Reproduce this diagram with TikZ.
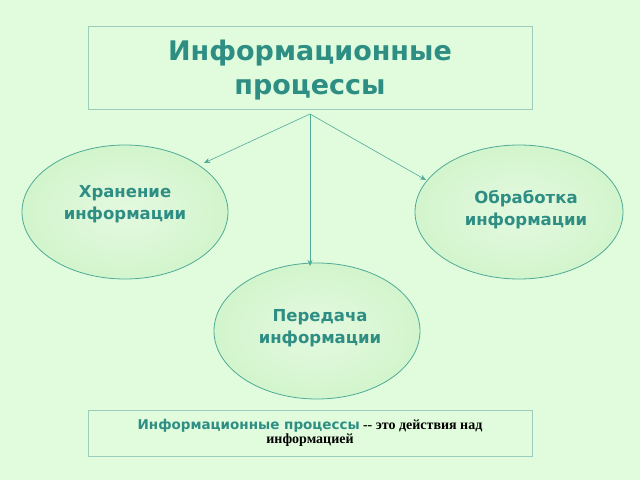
\documentclass[tikz,border=0pt]{standalone}
\usepackage{fontspec}
\setmainfont{DejaVu Sans}
\newfontfamily\serifb{Liberation Serif}
\usetikzlibrary{shapes.geometric,arrows.meta}
\begin{document}
\begin{tikzpicture}[x=1pt,y=-1pt,
  teal/.style={text=tealtxt,font=\bfseries},
  ell/.style={ellipse,draw=edgec,inner color=white!40!fillc,outer color=fillc,line width=0.8pt},
  box/.style={draw=boxc,line width=0.8pt,fill=bg},
  arr/.style={draw=edgec,-{Stealth[length=6pt,width=5pt]},line width=0.6pt}]
\definecolor{bg}{HTML}{E0FCDC}
\definecolor{fillc}{HTML}{D2F5CC}
\definecolor{edgec}{HTML}{4FAA98}
\definecolor{boxc}{HTML}{9ACDBE}
\definecolor{tealtxt}{HTML}{2E8E84}
\useasboundingbox[fill=bg] (0,0) rectangle (640,480);
\node[box,minimum width=444pt,minimum height=83pt] (title) at (310,68) {};
\node[teal,align=center,font=\bfseries\fontsize{27}{34}\selectfont] (tt) at (310,70) {Информационные\\процессы};
\coordinate (src) at (310,114);
\node[ell,minimum width=206pt,minimum height=134pt] (e1) at (125,212) {};
\node[teal,align=center,font=\bfseries\fontsize{16.5}{22}\selectfont] at (125,204) {Хранение\\информации};
\node[ell,minimum width=208pt,minimum height=134pt] (e2) at (519,212) {};
\node[teal,align=center,font=\bfseries\fontsize{16.5}{22}\selectfont] at (526,210) {Обработка\\информации};
\node[ell,minimum width=206pt,minimum height=136pt] (e3) at (317,331) {};
\node[teal,align=center,font=\bfseries\fontsize{16.5}{22}\selectfont] at (320,328) {Передача\\информации};
\draw[arr] (src) -- (204,163);
\draw[arr] (src) -- (426,180);
\draw[arr] (src) -- (310,266);
\node[box,minimum width=444pt,minimum height=46pt] (def) at (310,433) {};
\node[align=center] (dt) at (310,433) {\textcolor{tealtxt}{\bfseries\fontsize{13.5}{19}\selectfont Информационные процессы} {\serifb\bfseries\fontsize{14}{19}\selectfont -- это действия над}\\{\serifb\bfseries\fontsize{14}{19}\selectfont информацией}};
\end{tikzpicture}
\end{document}
